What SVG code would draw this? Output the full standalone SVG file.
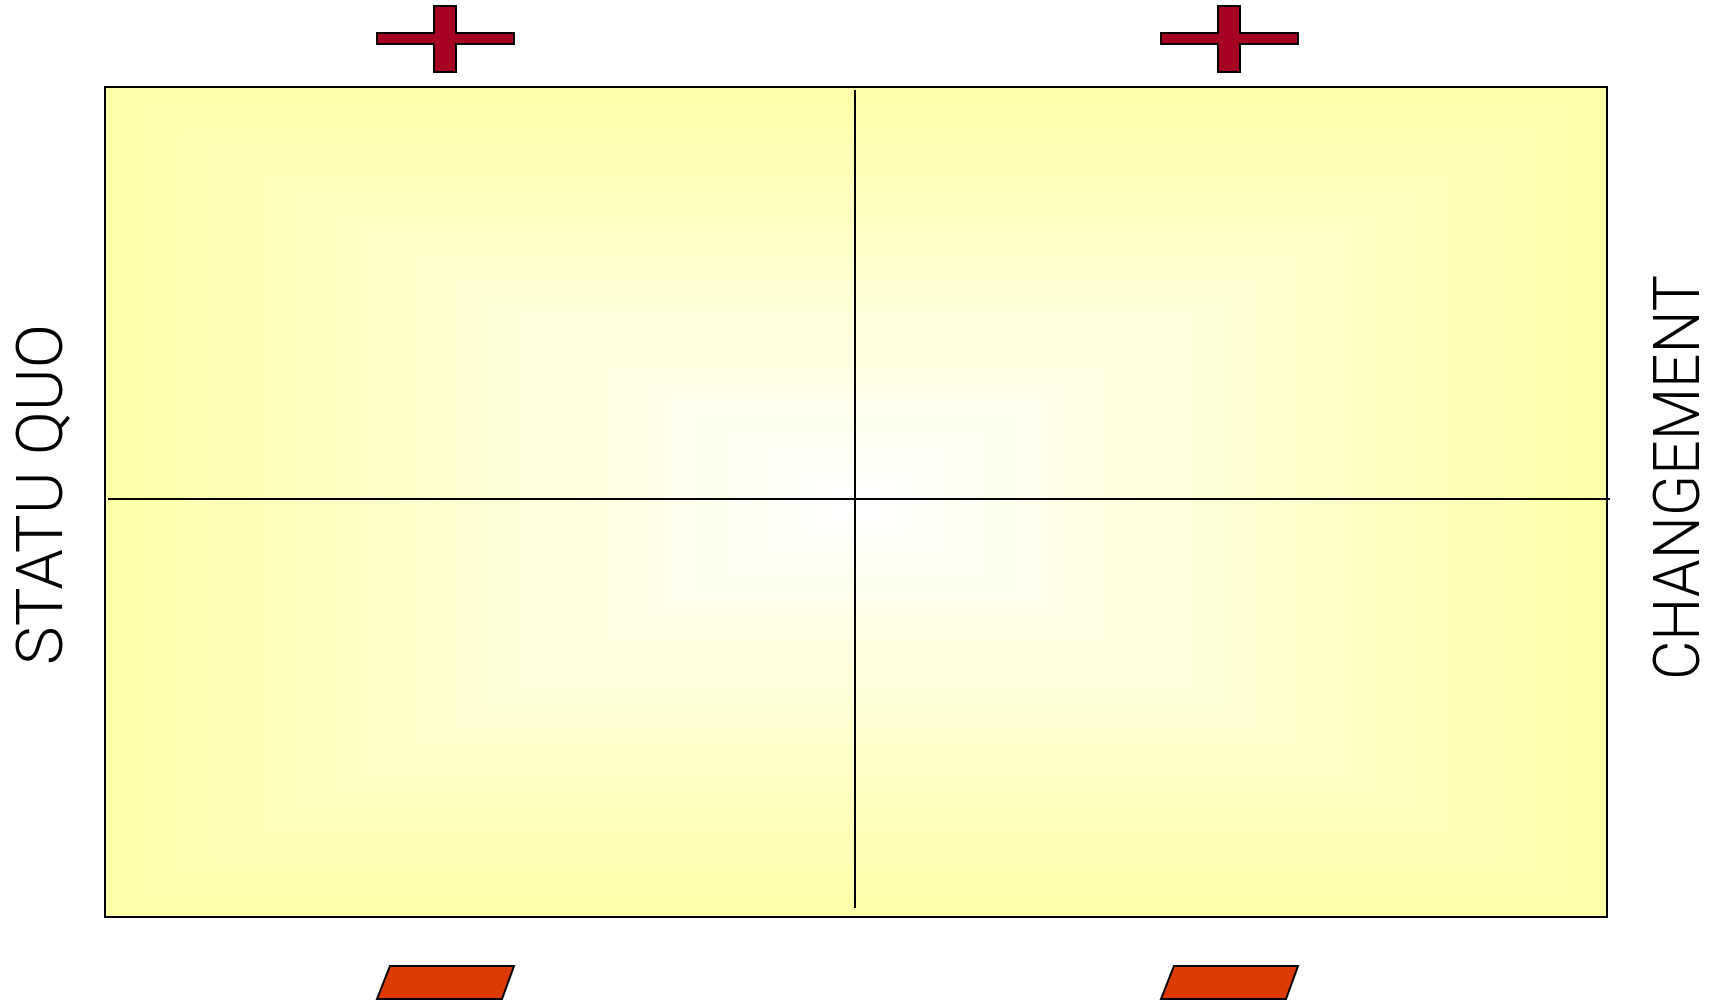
<svg xmlns="http://www.w3.org/2000/svg" width="1722" height="1001" viewBox="0 0 1722 1001">
<style>
.lbl{font-family:"Roboto","Liberation Sans","Arial",sans-serif;font-weight:300;font-size:65px;fill:#000;}
.plus{fill:#A50021;stroke:#000;stroke-width:2;stroke-linejoin:miter;}
.minus{fill:#DD3A00;stroke:#000;stroke-width:2;}
.axis{stroke:#000;stroke-width:2;fill:none;}
</style>
<defs>
<linearGradient id="gTop" gradientUnits="userSpaceOnUse" x1="0" y1="87" x2="0" y2="502">
<stop offset="0" stop-color="#FFFFA8"/><stop offset="1" stop-color="#FFFFFF"/>
</linearGradient>
<linearGradient id="gBot" gradientUnits="userSpaceOnUse" x1="0" y1="917" x2="0" y2="502">
<stop offset="0" stop-color="#FFFFA8"/><stop offset="1" stop-color="#FFFFFF"/>
</linearGradient>
<linearGradient id="gLeft" gradientUnits="userSpaceOnUse" x1="105" y1="0" x2="856" y2="0">
<stop offset="0" stop-color="#FFFFA8"/><stop offset="1" stop-color="#FFFFFF"/>
</linearGradient>
<linearGradient id="gRight" gradientUnits="userSpaceOnUse" x1="1607" y1="0" x2="856" y2="0">
<stop offset="0" stop-color="#FFFFA8"/><stop offset="1" stop-color="#FFFFFF"/>
</linearGradient>
</defs>
<rect width="1722" height="1001" fill="#FFFFFF"/>
<g id="matrix">
<rect x="105" y="87" width="1502" height="416" fill="url(#gTop)"/>
<rect x="105" y="501" width="1502" height="416" fill="url(#gBot)"/>
<polygon points="105,87 856,502 105,917" fill="url(#gLeft)"/>
<polygon points="1607,87 856,502 1607,917" fill="url(#gRight)"/>
<rect x="105" y="87" width="1502" height="830" fill="none" stroke="#000" stroke-width="2"/>
</g>
<g id="connectors">
<line class="axis" x1="108" y1="499" x2="1610" y2="499"/>
<line class="axis" x1="855" y1="90" x2="855" y2="908"/>
</g>
<g id="plus-left">
<polygon class="plus" points="434,6 456,6 456,33 514,33 514,44 456,44 456,72 434,72 434,44 377,44 377,33 434,33"/>
</g>
<g id="plus-right">
<polygon class="plus" points="1218,6 1240,6 1240,33 1298,33 1298,44 1240,44 1240,72 1218,72 1218,44 1161,44 1161,33 1218,33"/>
</g>
<g id="minus-left">
<polygon class="minus" points="390,966 514,966 502,999 377,999"/>
</g>
<g id="minus-right">
<polygon class="minus" points="1174,966 1298,966 1286,999 1161,999"/>
</g>
<g id="label-statu-quo">
<text class="lbl" transform="translate(62,494.5) rotate(-90)" text-anchor="middle" textLength="341" lengthAdjust="spacingAndGlyphs">STATU QUO</text>
</g>
<g id="label-changement">
<text class="lbl" transform="translate(1699,477.5) rotate(-90)" text-anchor="middle" textLength="405" lengthAdjust="spacingAndGlyphs">CHANGEMENT</text>
</g>
</svg>
